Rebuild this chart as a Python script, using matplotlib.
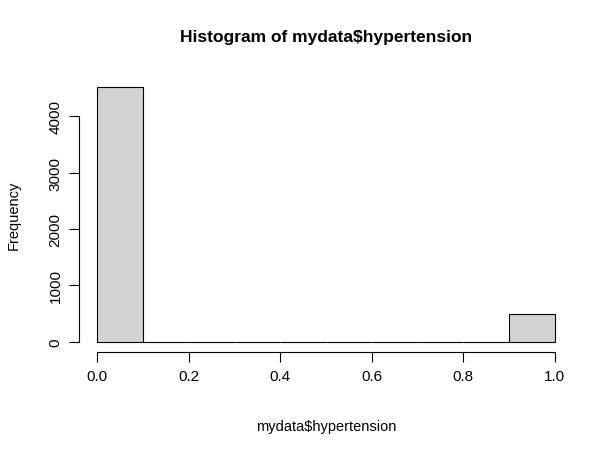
import numpy as np
import matplotlib.pyplot as plt

plt.rcParams["font.family"] = ["Liberation Sans", "DejaVu Sans"]

# histogram bins and counts
bin_edges = [0.0, 0.1, 0.2, 0.3, 0.4, 0.5, 0.6, 0.7, 0.8, 0.9, 1.0]
counts = [4510, 0, 0, 0, 0, 0, 0, 0, 0, 487]
x_ticks = [0.0, 0.2, 0.4, 0.6, 0.8, 1.0]
y_ticks = [0, 1000, 2000, 3000, 4000]

fig = plt.figure(figsize=(6.13, 4.52), dpi=100)
ax = fig.add_axes([0.129, 0.219, 0.806, 0.608])

edges = np.array(bin_edges)
ax.bar(edges[:-1], counts, width=np.diff(edges), align="edge",
       color="#d3d3d3", edgecolor="black", linewidth=0.8)

ax.set_xlim(-0.04, 1.04)
ax.set_ylim(-180, 4690)
for s in ("top", "right"):
    ax.spines[s].set_visible(False)
ax.spines["left"].set_bounds(0, 4000)
ax.spines["bottom"].set_bounds(0, 1)
ax.set_xticks(x_ticks)
ax.set_xticklabels([f"{v:.1f}" for v in x_ticks])
ax.set_yticks(y_ticks)
ax.set_yticklabels([str(v) for v in y_ticks], rotation=90, va="center")
ax.tick_params(length=7, labelsize=11, pad=5)

ax.set_xlabel("mydata$hypertension", fontsize=10.5, labelpad=26)
ax.set_ylabel("Frequency", fontsize=10.5, labelpad=20)
ax.set_title("Histogram of mydata$hypertension", fontsize=12.5, fontweight="bold", pad=26)

fig.savefig("out.png", dpi=100)
